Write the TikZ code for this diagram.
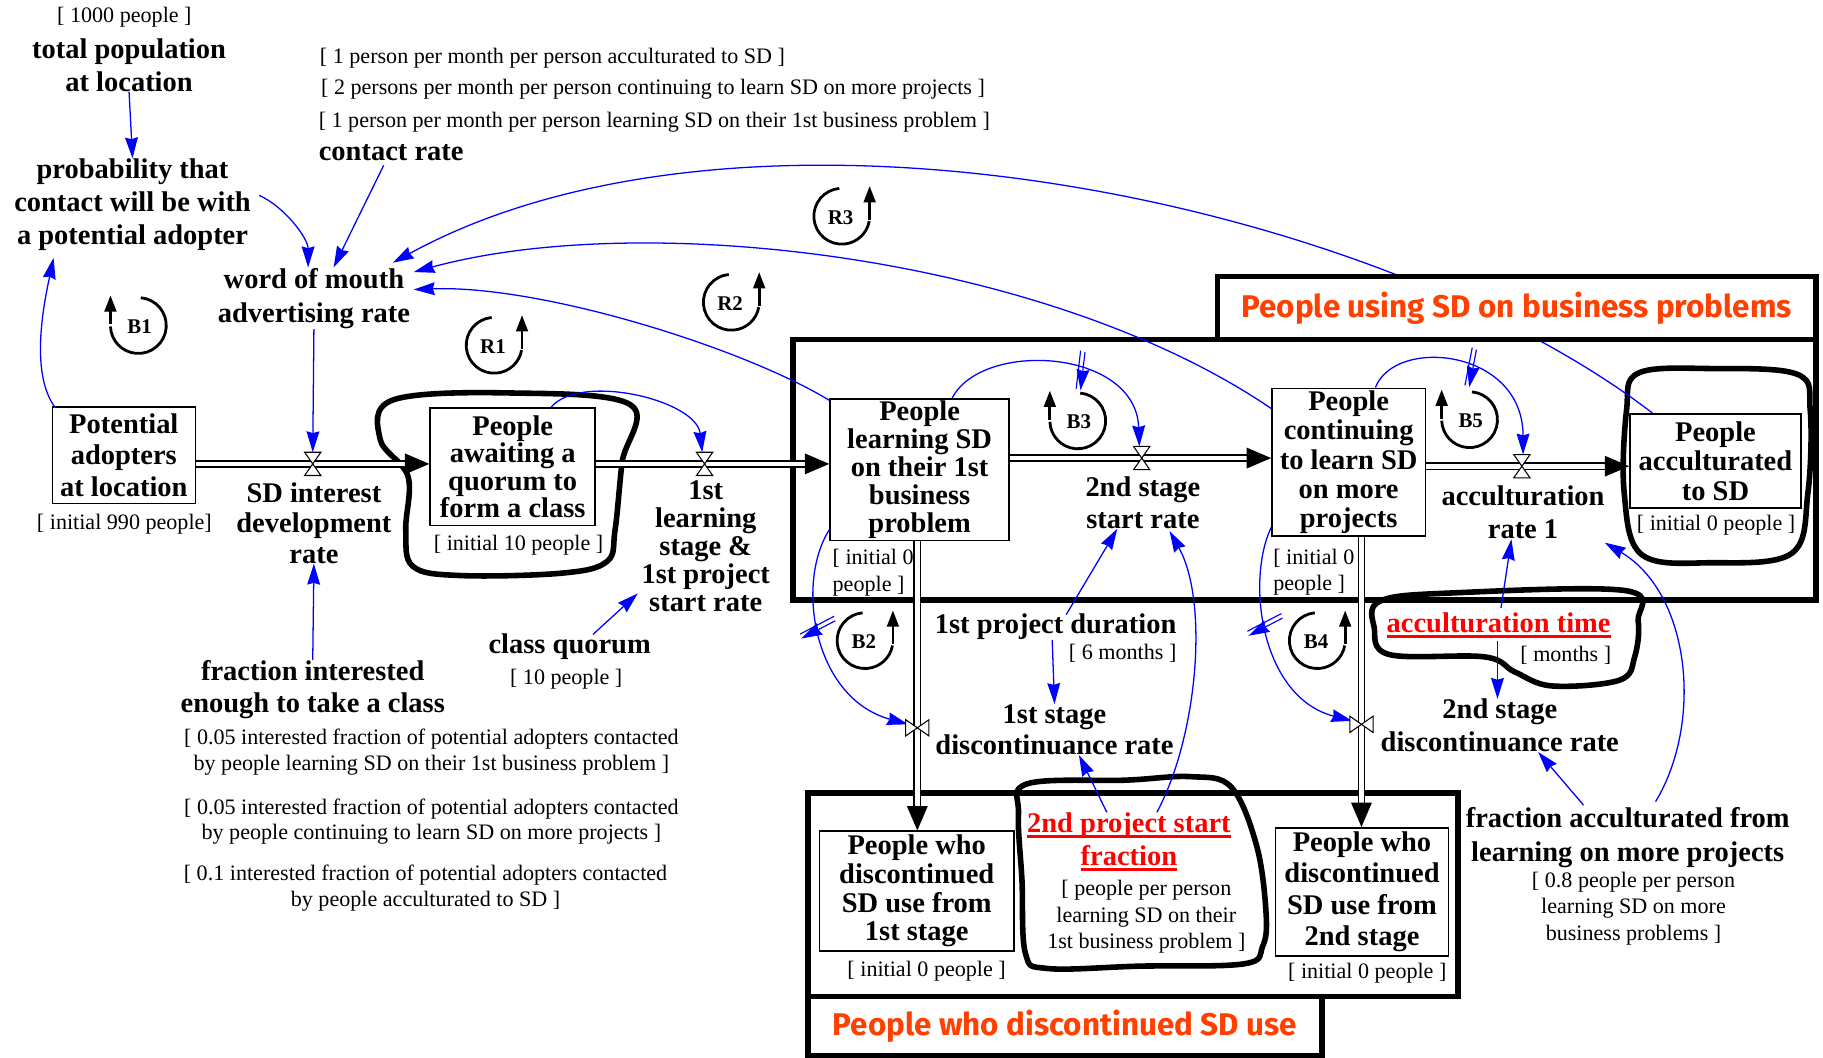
\documentclass[tikz,border=0pt]{standalone}
\usepackage{fontspec}
\setmainfont{Liberation Serif}
\newfontfamily\redfont{Fira Sans}
\usetikzlibrary{arrows.meta,calc,decorations.markings}
\definecolor{lblue}{RGB}{0,0,255}
\definecolor{orng}{RGB}{255,64,0}
\definecolor{redu}{RGB}{255,0,0}
\newsavebox\ulbox
\newcommand\redul[1]{\sbox\ulbox{#1}\rlap{\rule[-4.5pt]{\wd\ulbox}{2.4pt}}\usebox\ulbox}
\begin{document}
\begin{tikzpicture}[x=1pt,y=-1pt,
 bl/.style={inner sep=0pt, align=center, font=\fontsize{24.5}{#1}\selectfont\bfseries},
 bl/.default=24,
 rg/.style={inner sep=0pt, align=center, font=\fontsize{19}{#1}\selectfont},
 rg/.default=22.5,
 stock/.style={draw, line width=1.4pt, fill=white},
 lnk/.style={draw=lblue, line width=1.1pt, -{Stealth[length=18pt,width=11pt,inset=1.5pt]}},
 pipe/.style={draw=black, line width=1.3pt, double=white, double distance=4pt},
 frame/.style={line width=4.5pt},
 blob/.style={line width=4.8pt, line join=round},
 redlab/.style={draw, line width=4.5pt, fill=white, inner sep=0pt, text=orng, font=\redfont\bfseries\fontsize{27}{27}\selectfont},
 dmark/.style={postaction={decorate,decoration={markings,mark=at position #1 with {\draw[lblue,line width=1pt] (-6,-16) -- (2,16) (-2,-16) -- (6,16);}}}},
 vh/.pic={\draw[fill=white,line width=0.9pt] (-7,-10) -- (7,-10) -- (-7,10) -- (7,10) -- cycle;},
 vv/.pic={\draw[fill=white,line width=0.9pt] (-10,-7) -- (-10,7) -- (10,-7) -- (10,7) -- cycle;},
 loopl/.pic={
  \draw[line width=2.4pt] (-85:24) arc[start angle=-85, end angle=178, radius=24];
  \draw[line width=2.4pt, -{Triangle[length=14pt,width=10pt]}] (-24,-1) -- (-24,-26);
  \node[font=\fontsize{18}{18}\selectfont\bfseries] at (1,1) {#1};
 },
 loopr/.pic={
  \draw[line width=2.4pt] (-95:24) arc[start angle=-95, end angle=-350, radius=24];
  \draw[line width=2.4pt, -{Triangle[length=14pt,width=10pt]}] (24,3) -- (24,-26);
  \node[font=\fontsize{18}{18}\selectfont\bfseries] at (-1,1) {#1};
 }
]
\useasboundingbox (0,0) rectangle (1568,910);

% frames
\draw[frame] (682,292) rectangle (1562,516);
\draw[frame] (695,682) rectangle (1254,857);

% blobs
\draw[blob] plot[smooth cycle, tension=0.6] coordinates {(338,344) (439,338) (542,348) (535,398) (529,456) (522,483) (483,493) (395,495) (355,487) (349,456) (351,410) (327,378)};
\draw[blob] plot[smooth cycle, tension=0.6] coordinates {(1409,321) (1472,317) (1546,322) (1557,353) (1555,424) (1541,476) (1472,484) (1412,477) (1397,424) (1399,353)};
\draw[blob] plot[smooth cycle, tension=0.6] coordinates {(1187,517) (1249,510) (1398,508) (1409,534) (1406,565) (1393,585) (1335,590) (1303,578) (1277,565) (1195,563) (1182,540)};
\draw[blob] plot[smooth cycle, tension=0.6] coordinates {(884,674) (969,671) (1024,668) (1059,677) (1081,728) (1089,786) (1086,814) (1070,829) (980,831) (901,833) (882,820) (879,757) (876,700)};

% text nodes
\node[rg] (t1000) at (107,15) {[ 1000 people ]};
\node[bl=28] (tp) at (111,56) {total population\\at location};
\node[bl=28.5] (prob) at (114,176) {probability that\\contact will be with\\a potential adopter};
\node[rg, anchor=west] (cr1) at (275,50) {[ 1 person per month per person acculturated to SD ]};
\node[rg, anchor=west] (cr2) at (276,77) {[ 2 persons per month per person continuing to learn SD on more projects ]};
\node[rg, anchor=west] (cr3) at (274,105) {[ 1 person per month per person learning SD on their 1st business problem ]};
\node[bl, anchor=west] (cr) at (274,131) {contact rate};
\node[bl=29] (wom) at (270,257) {word of mouth\\advertising rate};

\node[bl=27, stock, minimum width=123pt, minimum height=83pt] (pa) at (106.5,391.5) {Potential\\adopters\\at location};
\node[rg] (pai) at (107,451) {[ initial 990 people]};
\coordinate (v1) at (269,399);
\node[bl=26] (r1l) at (270,450) {SD interest\\development\\rate};
\node[bl=23.7, stock, minimum width=142pt, minimum height=101pt] (aw) at (441,401.5) {People\\awaiting a\\quorum to\\form a class};
\node[rg] (awi) at (446,469) {[ initial 10 people ]};
\coordinate (v2) at (606,399);
\node[bl=24] (r2l) at (607,470) {1st\\learning\\stage \&\\1st project\\start rate};
\node[bl=24, stock, minimum width=154pt, minimum height=122pt] (ln) at (791,404) {People\\learning SD\\on their 1st\\business\\problem};
\node[rg=23, anchor=west, align=left] (lni) at (716,492.5) {[ initial 0\\people ]};
\coordinate (v3) at (982,394);
\node[bl=27] (r3l) at (983,432.5) {2nd stage\\start rate};
\node[bl=25.3, stock, minimum width=132pt, minimum height=127pt] (ct) at (1160,397.5) {People\\continuing\\to learn SD\\on more\\projects};
\node[rg=22, anchor=west, align=left] (cti) at (1095,492) {[ initial 0\\people ]};
\coordinate (v4) at (1309,401);
\node[bl=29] (r4l) at (1310,440.5) {acculturation\\rate 1};
\node[bl=25.5, stock, minimum width=147pt, minimum height=81pt] (ac) at (1475.5,396.5) {People\\acculturated\\to SD};
\node[rg] (aci) at (1476,452) {[ initial 0 people ]};
\coordinate (v5) at (789,626);
\node[bl=27] (r5l) at (907,627.5) {1st stage\\discontinuance rate};
\coordinate (v6) at (1171,623);
\node[bl=28] (r6l) at (1290,624) {2nd stage\\discontinuance rate};
\node[bl=24.7, stock, minimum width=167pt, minimum height=103pt] (d1) at (788.5,766.5) {People who\\discontinued\\SD use from\\1st stage};
\node[rg] (d1i) at (797,835) {[ initial 0 people ]};
\node[bl=26.7, stock, minimum width=149pt, minimum height=110pt] (d2) at (1171.5,767) {People who\\discontinued\\SD use from\\2nd stage};
\node[rg] (d2i) at (1176,837) {[ initial 0 people ]};

\node[bl=28] (fi) at (269,593) {fraction interested\\enough to take a class};
\node[rg=22] (fi1) at (371,647) {[ 0.05 interested fraction of potential adopters contacted\\by people learning SD on their 1st business problem ]};
\node[rg=22] (fi2) at (371,706.5) {[ 0.05 interested fraction of potential adopters contacted\\by people continuing to learn SD on more projects ]};
\node[rg=22] (fi3) at (366,764) {[ 0.1 interested fraction of potential adopters contacted\\by people acculturated to SD ]};
\node[bl] (cq) at (490,556) {class quorum};
\node[rg] (cqv) at (487,584) {[ 10 people ]};
\node[bl] (pd) at (908,539) {1st project duration};
\node[rg, anchor=east] (pdv) at (1012,562) {[ 6 months ]};
\node[bl, text=redu] (at) at (1289,538) {\redul{acculturation time}};
\node[rg, anchor=east] (atv) at (1386,564) {[ months ]};
\node[bl, text=redu] (psf) at (971,710) {\redul{2nd project start}};
\node[bl, text=redu] (psf2) at (971,738) {\redul{fraction}};
\node[rg=22.5] (psfv) at (986,788.5) {[ people per person\\learning SD on their\\1st business problem ]};
\node[bl=29] (fam) at (1400,720.5) {fraction acculturated from\\learning on more projects};
\node[rg=22.5] (famv) at (1405,781.5) {[ 0.8 people per person\\learning SD on more\\business problems ]};

% flows (pipes)
\draw[pipe] (pa.east |- v1) -- ($(aw.west |- v1)+(-12,0)$);
\fill (aw.west |- v1) -- ++(-21,-9) -- ++(0,18) -- cycle;
\draw[pipe] (aw.east |- v2) -- ($(ln.west |- v2)+(-12,0)$);
\fill (ln.west |- v2) -- ++(-21,-9) -- ++(0,18) -- cycle;
\draw[pipe] (ln.east |- v3) -- ($(ct.west |- v3)+(-12,0)$);
\fill (ct.west |- v3) -- ++(-21,-9) -- ++(0,18) -- cycle;
\draw[pipe] (ct.east |- v4) -- ($(ac.west |- v4)+(-12,0)$);
\fill (ac.west |- v4) -- ++(-21,-9) -- ++(0,18) -- cycle;
\draw[pipe] (ln.south -| v5) -- ($(d1.north -| v5)+(0,-12)$);
\fill (d1.north -| v5) -- ++(-9,-21) -- ++(18,0) -- cycle;
\draw[pipe] (ct.south -| v6) -- ($(d2.north -| v6)+(0,-12)$);
\fill (d2.north -| v6) -- ++(-9,-21) -- ++(18,0) -- cycle;

% information links
\draw[lnk] (tp.south) -- (prob.north);
\draw[lnk] ($(cr.south west)+(56,4)$) -- ($(wom.north)+(17,-1)$);
\draw[lnk] ($(prob.east)+(7,-8)$) .. controls +(22,10) and +(0,-25) .. ($(wom.north)+(-5,-1)$);
\draw[lnk] ($(pa.north west)+(3,1)$) .. controls +(-22,-30) and +(-8,38) .. ($(prob.south west)+(34,6)$);
\draw[lnk] (wom.south) -- ($(v1)+(0,-10)$);
\draw[lnk] (fi.north) -- (r1l.south);
\draw[lnk] ($(cq.north)+(20,1)$) -- ($(r2l.south west)+(-3,-16)$);
\draw[lnk] ($(aw.north)+(33,0)$) .. controls +(25,-30) and +(-5,-45) .. ($(v2)+(-2,-10)$);
\draw[lnk] ($(ln.north west)+(0,2)$) .. controls +(-74,-45) and +(110,-4) .. ($(wom.east)+(3,-8)$);
\draw[lnk] ($(ct.north west)+(0,18)$) .. controls +(-194,-132) and +(198,-54) .. ($(wom.east)+(3,-23)$);
\draw[lnk] ($(ac.north west)+(20,0)$) .. controls +(-242,-186) and +(303,-166) .. ($(wom.north east)+(-15,-5)$);
\draw[lnk, dmark=0.58] ($(ln.north)+(28,0)$) .. controls +(26,-50) and +(-3,-84) .. ($(v3)+(-2,-10)$);
\draw[lnk, dmark=0.5] ($(ct.north)+(23,0)$) .. controls +(17,-44) and +(0,-91) .. ($(v4)+(1,-10)$);
\draw[lnk, dmark=0.42] ($(ln.south west)+(0,-10)$) .. controls +(-29,45) and +(-82,-23) .. ($(v5)+(-8,-3)$);
\draw[lnk, dmark=0.42] ($(ct.south west)+(0,-8)$) .. controls +(-22,47) and +(-78,-20) .. ($(v6)+(-8,-3)$);
\draw[lnk] ($(pd.south)+(-3,0)$) -- (r5l.north);
\draw[lnk] ($(pd.north)+(9,1)$) -- ($(r3l.south)+(-22,0)$);
\draw[lnk] ($(psf.north)+(-19,0)$) -- ($(r5l.south)+(21,0)$);
\draw[lnk] ($(psf.north)+(24,0)$) .. controls +(35,-65) and +(34,61) .. ($(r3l.south)+(23,2)$);
\draw[lnk] ($(at.north)+(2,-4)$) -- ($(r4l.south)+(-10,0)$);
\draw[lnk] ($(at.south)+(-1,2)$) -- ($(r6l.north)+(-2,0)$);
\draw[lnk] ($(fam.north)+(-38,-2)$) -- ($(r6l.south)+(33,0)$);
\draw[lnk] ($(fam.north)+(24,-5)$) .. controls +(41,-68) and +(74,44) .. ($(ac.south west)+(-21,29)$);

% group label boxes
\node[redlab, minimum width=515pt, minimum height=54pt] (lt) at (1304.5,265) {People using SD on business problems};
\node[redlab, minimum width=442pt, minimum height=51pt] (lb) at (916,882.5) {People who discontinued SD use};

% valves
\pic at (v1) {vh};
\pic at (v2) {vh};
\pic at (v3) {vh};
\pic at (v4) {vh};
\pic at (v5) {vv};
\pic at (v6) {vv};

% loop markers
\pic at (119,280) {loopl=B1};
\pic at (425,297) {loopr=R1};
\pic at (629,260) {loopr=R2};
\pic at (724,186) {loopr=R3};
\pic at (927,362) {loopl=B3};
\pic at (1264,361) {loopl=B5};
\pic at (744,551) {loopr=B2};
\pic at (1133,551) {loopr=B4};
\end{tikzpicture}
\end{document}
